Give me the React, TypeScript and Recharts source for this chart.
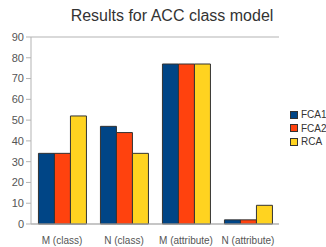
import { BarChart, Bar, XAxis, YAxis, CartesianGrid } from 'recharts';

const categories = ['M (class)', 'N (class)', 'M (attribute)', 'N (attribute)'];
const fca1 = [34, 47, 77, 2];
const fca2 = [34, 44, 77, 2];
const rca = [52, 34, 77, 9];
const yTicks = [0, 10, 20, 30, 40, 50, 60, 70, 80, 90];

const series = [
  { key: 'FCA1', color: '#004586' },
  { key: 'FCA2', color: '#ff420e' },
  { key: 'RCA', color: '#ffd320' },
];

const data = categories.map((name, i) => ({
  name,
  FCA1: fca1[i],
  FCA2: fca2[i],
  RCA: rca[i],
}));

const gridColor = '#b3b3b3';
const font = 'Liberation Sans, Arial, sans-serif';

function LegendBox() {
  return (
    <div
      style={{
        position: 'absolute',
        left: 290,
        top: 108,
        fontFamily: font,
        fontSize: 10,
        color: '#333',
      }}
    >
      {series.map((s) => (
        <div key={s.key} style={{ display: 'flex', alignItems: 'center', height: 13.5 }}>
          <span
            style={{
              flex: 'none',
              width: 6,
              height: 6,
              background: s.color,
              border: '1px solid #333',
              marginRight: 3,
            }}
          />
          <span>{s.key}</span>
        </div>
      ))}
    </div>
  );
}

export default function App() {
  return (
    <div style={{ position: 'absolute', left: 0, top: 0, width: 326, height: 247, background: '#fff' }}>
      <div
        style={{
          position: 'absolute',
          left: 0,
          top: 7,
          width: 344,
          textAlign: 'center',
          fontFamily: font,
          fontSize: 16,
          color: '#333',
        }}
      >
        Results for ACC class model
      </div>
      <BarChart
        width={326}
        height={247}
        data={data}
        margin={{ top: 37, right: 47, bottom: 0, left: 0 }}
        barCategoryGap="12%"
        barGap={0}
      >
        <CartesianGrid vertical={false} stroke={gridColor} />
        <XAxis
          dataKey="name"
          axisLine={{ stroke: gridColor }}
          tickLine={false}
          tick={{ fill: '#555', fontSize: 10, fontFamily: font, dy: 5 }}
          height={23}
          interval={0}
        />
        <YAxis
          yAxisId="left"
          domain={[0, 90]}
          ticks={yTicks}
          width={31}
          axisLine={{ stroke: gridColor }}
          tickLine={{ stroke: gridColor }}
          tickSize={5}
          tick={{ fill: '#555', fontSize: 11, fontFamily: font }}
        />
        <YAxis
          yAxisId="right"
          orientation="right"
          domain={[0, 90]}
          width={0}
          tick={false}
          tickLine={false}
          axisLine={{ stroke: gridColor }}
        />
        {series.map((s) => (
          <Bar
            key={s.key}
            yAxisId="left"
            dataKey={s.key}
            fill={s.color}
            stroke="#333"
            strokeWidth={1}
            isAnimationActive={false}
          />
        ))}
      </BarChart>
      <LegendBox />
    </div>
  );
}
